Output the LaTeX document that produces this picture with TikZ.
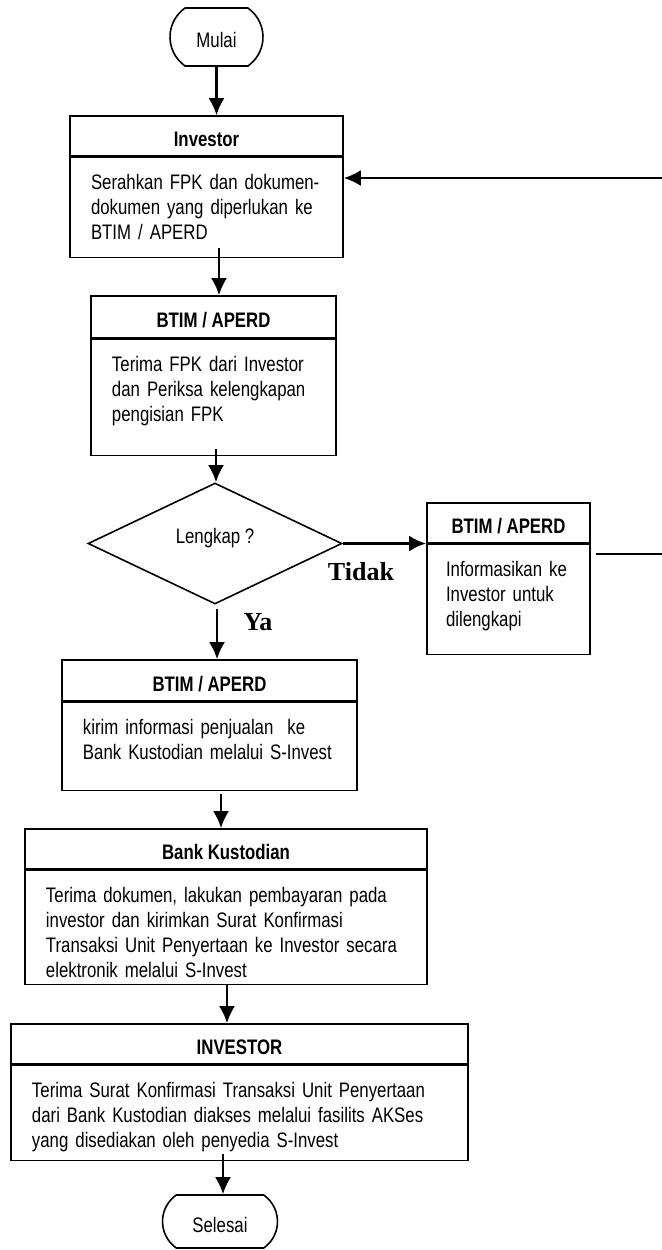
\documentclass[tikz,border=0pt]{standalone}
\usepackage{fontspec}
\setmainfont[FakeStretch=0.8]{Liberation Sans}
\newfontfamily\labelfont{Liberation Serif}
\usetikzlibrary{arrows.meta,shapes.geometric,shapes.misc}

\tikzset{
  every node/.style={font=\fontsize{10.5}{12.5}\selectfont},
  term/.style={draw, line width=0.8pt, rounded rectangle, rounded rectangle arc length=110,
    minimum width=46.5pt, minimum height=29pt, inner sep=0pt, text height=10.5pt, text depth=0pt},
  head/.style={draw, line width=0.8pt, minimum height=20pt, inner sep=0pt,
    text height=10.5pt, text depth=0pt, font=\fontsize{10.5}{12.5}\selectfont\bfseries},
  body/.style={draw, line width=0.8pt, anchor=north, align=left,
    inner xsep=10.5pt, inner ysep=8pt, text height=8pt},
  test/.style={draw, line width=0.8pt, diamond, minimum width=127pt, minimum height=60.5pt,
    inner sep=0pt, text height=7.5pt, text depth=7.5pt},
  answer/.style={font=\labelfont\bfseries\fontsize{13}{15}\selectfont, inner sep=0pt},
  flow/.style={-{Latex[length=8.5pt,width=8pt]}, line width=1.2pt}
}

\begin{document}
\begin{tikzpicture}[x=1pt,y=-1pt]
  \useasboundingbox (0,0) rectangle (331,625);
  \node[term] at (108.25,18.5) (mulai) {Mulai};

  \node[head, minimum width=136.5pt] at (103.25,68) (inv) {Investor};
  \node[body, text width=115.5pt, text depth=26pt] at (inv.south) (invtxt)
    {Serahkan FPK dan dokumen-\\dokumen yang diperlukan ke\\BTIM / APERD};

  \node[head, minimum width=122.5pt, minimum height=21pt] at (106.75,158.5) (cek) {BTIM / APERD};
  \node[body, text width=101.5pt, text depth=34pt] at (cek.south) (cektxt)
    {Terima FPK dari Investor\\dan Periksa kelengkapan\\pengisian FPK};

  \node[test] at (107.5,271.75) (lengkap) {Lengkap ?};

  \node[head, minimum width=81.5pt] at (254.25,261.5) (info) {BTIM / APERD};
  \node[body, inner xsep=9.5pt, text width=62.5pt, text depth=31pt] at (info.south) (infotxt)
    {Informasikan ke\\Investor untuk\\dilengkapi};

  \node[head, minimum width=147.5pt, minimum height=20.5pt] at (104.75,340.25) (kirim) {BTIM / APERD};
  \node[body, text width=126.5pt, text depth=20pt] at (kirim.south) (kirimtxt)
    {kirim informasi penjualan~ ke\\Bank Kustodian melalui S-Invest};

  \node[head, minimum width=201pt] at (113,424.5) (bank) {Bank Kustodian};
  \node[body, text width=180pt, text depth=33pt] at (bank.south) (banktxt)
    {Terima dokumen, lakukan pembayaran pada\\investor dan kirimkan Surat Konfirmasi\\Transaksi Unit Penyertaan ke Investor secara\\elektronik melalui S-Invest};

  \node[head, minimum width=228.5pt] at (119.75,522) (hasil) {INVESTOR};
  \node[body, text width=207.5pt, text depth=23.5pt] at (hasil.south) (hasiltxt)
    {Terima Surat Konfirmasi Transaksi Unit Penyertaan\\dari Bank Kustodian diakses melalui fasilits AKSes\\yang disediakan oleh penyedia S-Invest};

  \node[term, minimum width=57.5pt, minimum height=26.5pt] at (110,610.75) (selesai) {Selesai};

  \node[answer] at (180.5,286) (tidak) {Tidak};
  \node[answer] at (129,311) (ya) {Ya};

  \coordinate (back) at (331,89);
  \coordinate (out) at (331,277);

  \draw[flow] (mulai.south) -- (mulai.south |- inv.north);
  \draw[flow] ([xshift=6.25pt,yshift=5pt]invtxt.south) -- ([xshift=2.75pt]cek.north);
  \draw[flow] ([xshift=1.25pt,yshift=3.5pt]cektxt.south) -- ([xshift=0.5pt]lengkap.north);
  \draw[flow, line width=1.6pt] (lengkap.east) -- (lengkap.east -| info.west);
  \draw[flow] ([xshift=1pt,yshift=-2pt]lengkap.south) -- ([xshift=3.75pt]kirim.north);
  \draw[flow] ([xshift=5.75pt,yshift=-1.5pt]kirimtxt.south) -- ([xshift=-2.5pt]bank.north);
  \draw[flow] ([xshift=0.5pt]banktxt.south) -- ([xshift=-6.25pt]hasil.north);
  \draw[flow] ([xshift=-8.25pt,yshift=3.5pt]hasiltxt.south) -- ([xshift=1.5pt]selesai.north);
  \draw[flow] (back) -- (back -| invtxt.east);
  \draw[line width=0.8pt] (infotxt.east |- out) ++(2.5pt,0) -- (out);
\end{tikzpicture}
\end{document}
